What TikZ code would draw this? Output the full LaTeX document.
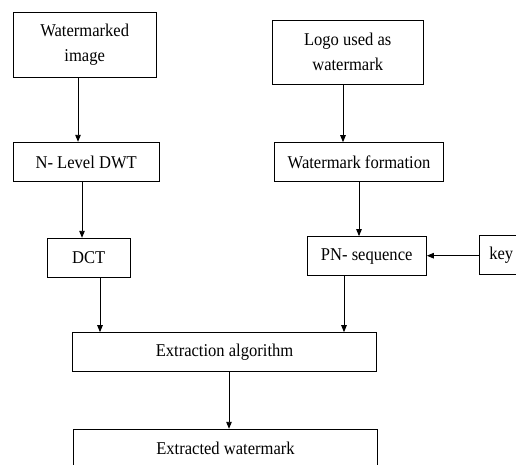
\documentclass[tikz,border=0pt]{standalone}
\usepackage{fontspec}
\setmainfont[FakeStretch=0.92]{Liberation Serif}
\usetikzlibrary{arrows.meta}
\begin{document}
\begin{tikzpicture}[x=1pt,y=-1pt,
  box/.style={draw,line width=1pt,inner sep=0pt,align=center,
    font=\fontsize{18}{25}\selectfont},
  arr/.style={line width=0.9pt,-{Triangle[length=7pt,width=5.5pt]}}]
\useasboundingbox (0,0) rectangle (516,464);
\clip (0,0) rectangle (516,464);
\node[box,minimum width=142.7pt,minimum height=65.3pt] (wm) at (84.7,44.7) {Watermarked\\image};
\node[box,minimum width=145.7pt,minimum height=39.4pt] (dwt) at (86.2,162) {N- Level DWT};
\node[box,minimum width=150.7pt,minimum height=64pt] (logo) at (347.7,52) {Logo used as\\watermark};
\node[box,minimum width=169.4pt,minimum height=39pt] (wf) at (359,162.2) {Watermark formation};
\node[box,minimum width=83pt,minimum height=39pt] (dct) at (88.8,257.8) {DCT};
\node[box,minimum width=119.3pt,minimum height=39.3pt] (pn) at (366.7,256.3) {PN- sequence};
\node[box,minimum width=55pt,minimum height=39pt,text width=35pt,align=left] (key) at (506.8,255.2) {key};
\node[box,minimum width=304.4pt,minimum height=39pt] (ext) at (224.5,352.2) {Extraction algorithm};
\node[box,minimum width=304.4pt,minimum height=39pt] (exw) at (225.5,448.8) {Extracted watermark};
\draw[arr] (wm.south -| 78,0) -- (dwt.north -| 78,0);
\draw[arr] (dwt.south -| 82,0) -- (dct.north -| 82,0);
\draw[arr] (logo.south -| 343,0) -- (wf.north -| 343,0);
\draw[arr] (wf.south -| 359,0) -- (pn.north -| 359,0);
\draw[arr] (key.west |- 0,255.7) -- (pn.east |- 0,255.7);
\draw[arr] (dct.south -| 100,0) -- (ext.north -| 100,0);
\draw[arr] (pn.south -| 344,0) -- (ext.north -| 344,0);
\draw[arr] (ext.south -| 229,0) -- (exw.north -| 229,0);
\end{tikzpicture}
\end{document}
